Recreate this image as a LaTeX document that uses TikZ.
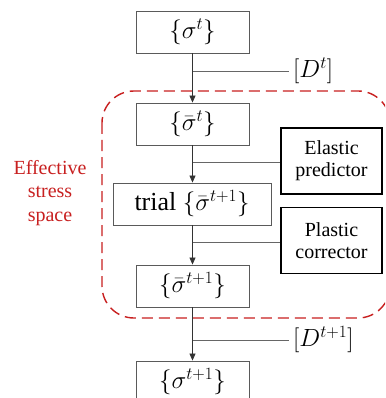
\documentclass[tikz,border=0pt]{standalone}
\usepackage{fontspec}
\setmainfont{Liberation Serif}
\usetikzlibrary{arrows.meta}
\definecolor{myred}{RGB}{200,32,32}
\definecolor{boxgray}{RGB}{90,90,90}
\begin{document}
\begin{tikzpicture}[x=1pt,y=-1pt,
  sbox/.style={draw=boxgray,line width=0.9pt,minimum width=113pt,minimum height=42pt,inner sep=0pt,font=\fontsize{26}{28}\selectfont},
  opbox/.style={draw=black,line width=1.4pt,minimum width=101pt,minimum height=66pt,inner sep=0pt,align=center,font=\fontsize{20}{22}\selectfont},
  conn/.style={draw=black!80,line width=0.8pt,-{Triangle[length=7pt,width=6pt]}},
  branch/.style={draw=black!60,line width=0.8pt},
  lab/.style={anchor=west,inner sep=1pt,font=\fontsize{25}{28}\selectfont}]
\useasboundingbox (0,0) rectangle (385,398);
\clip (0,0) rectangle (385,398);
\fill[white] (0,0) rectangle (385,398);
% dashed region
\draw[myred,line width=1.4pt,dash pattern=on 11pt off 6pt,rounded corners=32pt] (102,91) rectangle (390,318);
\node[myred,align=center,font=\fontsize{20}{23.5}\selectfont] (eff) at (50,193) {Effective\\stress\\space};
% boxes
\node[sbox] (s1) at (192.5,32) {$\{\sigma^t\}$};
\node[sbox] (s2) at (192.5,124) {$\{\bar\sigma^t\}$};
\node[sbox,minimum width=158pt] (s3) at (192,204) {trial $\{\bar\sigma^{t+1}\}$};
\node[sbox] (s4) at (192.5,286) {$\{\bar\sigma^{t+1}\}$};
\node[sbox] (s5) at (192.5,382) {$\{\sigma^{t+1}\}$};
\node[opbox] (ep) at (331.5,161) {Elastic\\predictor};
\node[opbox] (pc) at (331.5,240.5) {Plastic\\corrector};
\node[lab] (d1) at (292,71) {$[D^t]$};
\node[lab] (d2) at (292,340) {$[D^{t+1}]$};
% connectors
\draw[conn] (s1.south) -- (s2.north);
\draw[conn] (s2.south) -- (s2.south |- s3.north);
\draw[conn] (s2.south |- s3.south) -- (s4.north);
\draw[conn] (s4.south) -- (s5.north);
\coordinate (b1) at (s1.south |- d1.west);
\coordinate (b2) at (192.5,162);
\coordinate (b3) at (192.5,242);
\coordinate (b4) at (s4.south |- d2.west);
\draw[branch] (b1) -- ([xshift=-3pt]d1.west);
\draw[branch] (b2) -- (b2 -| ep.west);
\draw[branch] (b3) -- (b3 -| pc.west);
\draw[branch] (b4) -- ([xshift=-3pt]d2.west);
\end{tikzpicture}
\end{document}
